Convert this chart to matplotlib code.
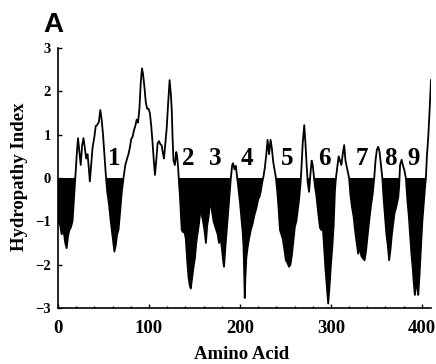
import matplotlib
matplotlib.use("Agg")
import matplotlib.pyplot as plt
import numpy as np

residue = [0, 2, 4, 6, 8, 9.5, 11, 12.5, 14, 16, 17.5, 19, 20.5, 22, 23.5, 25, 26.5, 28, 29.5, 31,
           32.5, 34, 35, 36.5, 38, 40, 41.5, 43, 45, 46.5, 48, 49.5, 51, 52.5, 54, 56, 58, 60, 62, 63.5,
           65, 66.5, 68, 70, 72, 74, 76, 77.5, 79, 80.5, 82, 83.5, 85, 86.5, 88, 89.5, 91, 92.3, 93.5, 95,
           96.5, 98, 99.5, 101, 102.5, 104, 105.5, 106.6, 108, 109.5, 111, 112.5, 114, 115.5, 116.5, 118,
           119.5, 121, 122.7, 124, 125, 126, 127, 128.5, 130, 131, 132, 133, 134, 135, 136, 137.5, 139,
           140.5, 142, 143.5, 145, 146, 147.5, 149, 150.5, 152, 153.5, 155, 156.5, 158, 159.5, 161, 162.6,
           164, 165.5, 167, 168, 169.5, 171, 172.5, 174, 175.5, 177, 178.5, 180, 181.5, 182.5, 184, 185.5,
           187, 188.5, 190, 191.5, 192.5, 194, 195.5, 197, 198.5, 200, 201.5, 203, 204, 204.8, 205.3, 206,
           207, 208.5, 210, 212, 214, 216, 218, 220, 221.5, 223, 224.5, 226, 227.5, 229, 230.4, 232, 233.7,
           235, 236.6, 238, 239.6, 241, 242.5, 244, 245.5, 247, 248.5, 250.5, 252, 254, 255.5, 257, 258.5,
           260.4, 262, 263.5, 265, 266.7, 267.8, 269, 270.7, 272, 273.3, 274.5, 276, 277.5, 278.8, 280,
           281.3, 282.5, 284, 286, 288, 289.5, 291, 292.5, 294, 295.5, 297, 298.5, 300, 301.5, 303, 304.4,
           305.5, 307, 308.5, 310, 311.5, 313, 314.6, 316, 317.5, 319, 320, 321.5, 323, 325, 326.5, 328,
           330, 331.5, 333.5, 335, 337, 338.5, 340, 342, 344, 346, 347.6, 349, 350.5, 352, 353.5, 355,
           356.5, 358, 359.5, 361, 362.5, 364, 365.5, 367, 368.5, 370, 371.5, 373, 374, 375, 376, 377.7,
           379, 380.5, 382.4, 384, 385.5, 387, 388.5, 390, 391, 392.3, 393.5, 395, 396, 397.5, 399, 400.5,
           402, 403.5, 404.4, 405.5, 407, 408.5, 410]
hydropathy = [-1.0, -1.05, -1.3, -1.2, -1.5, -1.62, -1.35, -1.2, -1.15, -1.0, -0.5, 0.0, 0.5, 0.92, 0.6,
              0.3, 0.75, 0.92, 0.7, 0.45, 0.55, 0.2, -0.08, 0.3, 0.7, 0.95, 1.2, 1.22, 1.3, 1.57, 1.35,
              1.0, 0.55, 0.1, -0.3, -0.6, -1.0, -1.35, -1.7, -1.55, -1.3, -1.2, -0.85, -0.35, 0.0, 0.3,
              0.45, 0.55, 0.7, 0.9, 0.95, 1.1, 1.2, 1.35, 1.28, 1.6, 2.2, 2.53, 2.4, 2.1, 1.75, 1.6, 1.6,
              1.5, 1.2, 0.8, 0.35, 0.07, 0.4, 0.8, 0.85, 0.78, 0.75, 0.55, 0.45, 0.8, 1.15, 1.7, 2.26,
              1.95, 1.6, 0.9, 0.4, 0.3, 0.6, 0.5, 0.25, -0.1, -0.4, -0.8, -1.2, -1.25, -1.25, -1.4, -1.9,
              -2.3, -2.5, -2.55, -2.3, -2.05, -1.85, -1.5, -1.27, -1.05, -0.75, -0.85, -1.0, -1.2, -1.5,
              -1.1, -0.9, -0.6, -0.55, -0.8, -1.0, -1.1, -1.2, -1.3, -1.5, -1.35, -1.6, -1.9, -2.05,
              -1.6, -1.2, -0.8, -0.4, 0.0, 0.3, 0.34, 0.2, 0.28, 0.0, -0.3, -0.55, -0.9, -1.25, -1.6,
              -2.3, -2.77, -2.3, -1.85, -1.6, -1.4, -1.2, -1.05, -0.85, -0.7, -0.5, -0.43, -0.3, -0.1,
              0.05, 0.26, 0.55, 0.88, 0.55, 0.88, 0.7, 0.37, 0.2, 0.0, -0.3, -0.7, -1.2, -1.3, -1.4,
              -1.6, -1.9, -1.95, -2.05, -2.0, -1.8, -1.5, -1.12, -1.0, -0.74, -0.5, -0.1, 0.3, 0.8, 1.22,
              0.8, 0.3, -0.1, -0.32, 0.1, 0.4, 0.3, 0.05, -0.2, -0.4, -0.8, -1.15, -1.2, -1.1, -1.6, -2.1,
              -2.5, -2.9, -2.5, -2.0, -1.6, -1.1, -0.3, 0.0, 0.25, 0.5, 0.4, 0.3, 0.55, 0.76, 0.4, 0.25,
              0.1, 0.0, -0.4, -0.65, -0.9, -1.2, -1.45, -1.75, -1.6, -1.8, -1.85, -1.9, -1.7, -1.4, -1.0,
              -0.65, -0.35, 0.0, 0.4, 0.65, 0.72, 0.6, 0.3, 0.0, -0.5, -0.9, -1.3, -1.55, -1.9, -1.65,
              -1.3, -1.05, -0.8, -0.7, -0.55, -0.45, -0.2, 0.3, 0.42, 0.3, 0.2, 0.0, -0.5, -0.85, -1.3,
              -1.75, -2.1, -2.4, -2.7, -2.5, -2.5, -2.7, -2.2, -1.6, -1.0, -0.6, -0.2, 0.0, 0.5, 0.95,
              1.57, 2.26]

# Transmembrane segment labels
tm_labels = ["1", "2", "3", "4", "5", "6", "7", "8", "9"]
tm_label_x = [62, 143.5, 173, 207.5, 252, 292.5, 334.5, 365, 390.5]

x_ticks = [0, 100, 200, 300, 400]
y_ticks = [-3, -2, -1, 0, 1, 2, 3]

fig = plt.figure(figsize=(4.36, 3.64), dpi=100)
ax = fig.add_axes([0.133, 0.154, 0.8555, 0.714])

x = np.array(residue)
y = np.array(hydropathy)
ax.fill_between(x, y, 0, where=y < 0, interpolate=True, color="black", lw=0)
ax.plot(x, y, color="black", lw=1.3)

ax.set_xlim(0, 410)
ax.set_ylim(-3, 3)
for s in ["top", "right"]:
    ax.spines[s].set_visible(False)
for s in ["left", "bottom"]:
    ax.spines[s].set_linewidth(1.2)

serif = ["Liberation Serif", "DejaVu Serif"]
ax.set_xticks(x_ticks)
ax.set_xticks(np.arange(0, 411, 20), minor=True)
ax.set_yticks(y_ticks)
ax.set_xticklabels([str(v) for v in x_ticks], fontfamily=serif, fontweight="bold", fontsize=13.5)
ax.set_yticklabels([str(v).replace("-", "\u2212") for v in y_ticks], fontfamily=serif,
                   fontweight="bold", fontsize=10.5)
ax.tick_params(axis="x", which="major", direction="in", length=3, width=1, pad=9)
ax.tick_params(axis="x", which="minor", direction="in", length=1.5, width=1)
ax.tick_params(axis="y", direction="in", length=3, width=1, pad=5)

for lab, lx in zip(tm_labels, tm_label_x):
    ax.text(lx, 0.46, lab, ha="center", va="center", fontfamily=serif,
            fontweight="bold", fontsize=18)

fig.text(19 / 436, 1 - 177 / 364, "Hydropathy Index", rotation=90, ha="center", va="center",
         fontfamily=serif, fontweight="bold", fontsize=13.5)
fig.text(242 / 436, 0.002, "Amino Acid", ha="center", va="bottom",
         fontfamily=serif, fontweight="bold", fontsize=13.5)
fig.text(43 / 436, 1 - 32 / 364, "A", ha="left", va="baseline",
         fontfamily=["Liberation Sans", "DejaVu Sans"], fontweight="bold", fontsize=20)

fig.savefig("out.png", dpi=100)
